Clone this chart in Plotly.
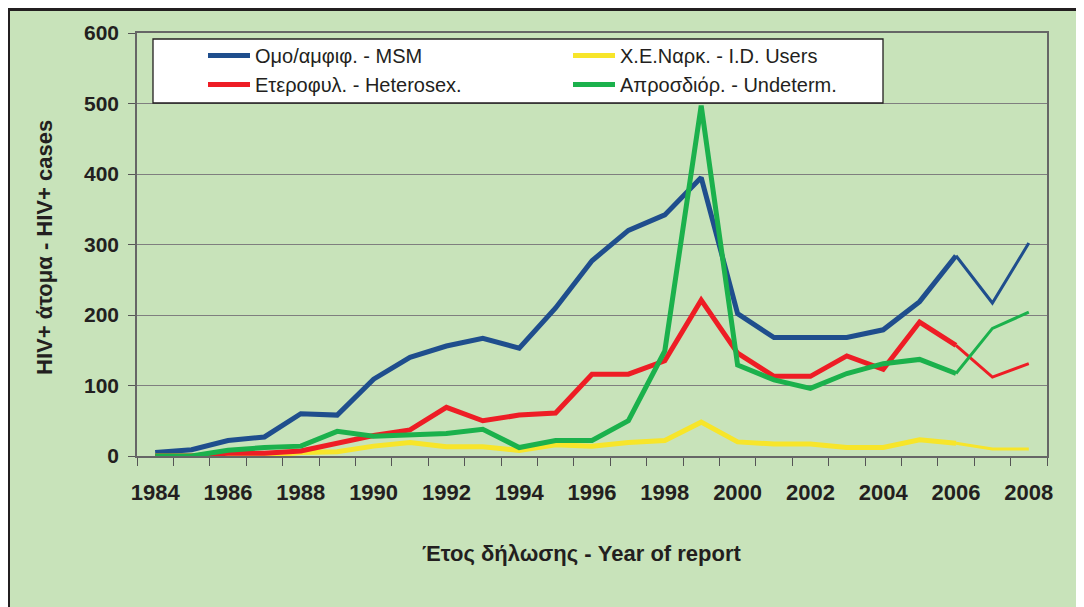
import plotly.graph_objects as go

YEARS = list(range(1984, 2009))
MSM = [5, 9, 22, 27, 60, 58, 109, 140, 156, 167, 153, 210, 277, 320, 342, 395, 202, 168, 168, 168, 179, 219, 284, 217, 302]
HETERO = [0, 0, 4, 4, 7, 18, 29, 37, 69, 50, 58, 61, 116, 116, 135, 221, 146, 113, 113, 142, 123, 190, 157, 112, 131]
IDU = [0, 0, 3, 0, 5, 6, 14, 19, 13, 13, 8, 16, 14, 19, 22, 48, 20, 17, 17, 12, 12, 23, 18, 10, 10]
UNDET = [0, 0, 8, 12, 14, 35, 28, 30, 32, 38, 12, 22, 22, 50, 149, 497, 129, 108, 96, 117, 131, 137, 117, 181, 204]

NAMES = ["Ομο/αμφιφ. - MSM", "Χ.Ε.Ναρκ. - I.D. Users", "Ετεροφυλ. - Heterosex.", "Απροσδιόρ. - Undeterm."]
COLORS = ["#1F4E8D", "#F7E52A", "#EE1D25", "#1BB14C"]
SERIES = [MSM, IDU, HETERO, UNDET]
Y_TICKS = [0, 100, 200, 300, 400, 500, 600]

cats = [str(y) for y in YEARS]
split = YEARS.index(2006)

OFF = 8  # page body margin
W, H = 1084, 607
# plot area in page coordinates
L, R, T, B = 137, 1047, 33, 456
def px(x): return (x - L) / (R - L)
def py(y): return (B - y) / (B - T)

fig = go.Figure()
for name, col, vals in zip(NAMES, COLORS, SERIES):
    fig.add_trace(go.Scatter(x=cats[:split + 1], y=vals[:split + 1], mode="lines", name=name,
                             line=dict(color=col, width=5), showlegend=True))
for name, col, vals in zip(NAMES, COLORS, SERIES):
    fig.add_trace(go.Scatter(x=cats[split:], y=vals[split:], mode="lines", name=name,
                             line=dict(color=col, width=3), showlegend=False))

TXT = "#231F20"
fig.update_layout(
    width=W, height=H,
    margin=dict(l=L - OFF, r=W - (R - OFF), t=T - OFF, b=H - (B - OFF), autoexpand=False),
    paper_bgcolor="white", plot_bgcolor="white",
    font=dict(family="Liberation Sans, Arial", color=TXT),
    showlegend=True,
    legend=dict(orientation="h", x=px(203), y=py(36), xanchor="left", yanchor="top",
                bgcolor="rgba(0,0,0,0)", borderwidth=0, entrywidth=308, entrywidthmode="pixels",
                itemwidth=42, font=dict(size=20, color=TXT), traceorder="normal"),
    xaxis=dict(type="category", categoryorder="array", categoryarray=cats,
               range=[-0.5, len(cats) - 0.5], autorange=False,
               tickmode="array", tickvals=cats, tickangle=0, automargin=False,
               ticktext=[c if int(c) % 2 == 0 else "" for c in cats],
               tickson="boundaries", ticks="outside", ticklen=8, tickcolor="#555",
               showgrid=False, showline=True, linecolor="#666", linewidth=1.5, mirror=True,
               tickfont=dict(size=22, color=TXT, family="Liberation Sans", weight="bold"),
               ticklabelstandoff=16, zeroline=False),
    yaxis=dict(range=[0, 600], autorange=False, tickmode="array", tickvals=Y_TICKS, automargin=False,
               ticks="outside", ticklen=7, tickcolor="#555",
               showgrid=True, gridcolor="#7F7F7F", gridwidth=1.3,
               showline=True, linecolor="#666", linewidth=1.5, mirror=True,
               tickfont=dict(size=21, color=TXT, family="Liberation Sans", weight="bold"),
               ticklabelstandoff=5, zeroline=False),
    shapes=[
        dict(type="rect", xref="paper", yref="paper", x0=px(8.5), x1=px(1120), y0=py(640), y1=py(9.5),
             fillcolor="#C8E3BA", line=dict(color="#231F20", width=3), layer="below"),
        dict(type="rect", xref="paper", yref="paper", x0=px(153), x1=px(883), y0=py(103), y1=py(39),
             fillcolor="white", line=dict(color="#231F20", width=1.3), layer="above"),
    ],
    annotations=[
        dict(text="<b>HIV+ άτομα - HIV+ cases</b>", xref="paper", yref="paper", x=px(45), y=py(248),
             textangle=-90, showarrow=False, font=dict(size=22, color=TXT), xanchor="center", yanchor="middle"),
        dict(text="<b>Έτος δήλωσης - Year of report</b>", xref="paper", yref="paper", x=px(581), y=py(553),
             showarrow=False, font=dict(size=22, color=TXT), xanchor="center", yanchor="middle"),
    ],
)
fig.write_html("out.html")
